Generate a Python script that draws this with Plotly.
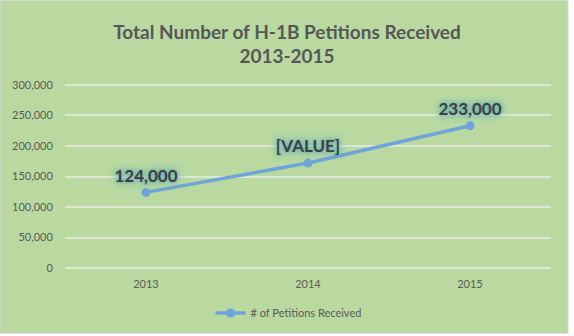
import plotly.graph_objects as go

years = ["2013", "2014", "2015"]
petitions = [124000, 172000, 233000]
point_labels = ["<b>124,000</b>", "<b>[VALUE]</b>", "<b>233,000</b>"]
series_name = "# of Petitions Received"
y_ticks = [0, 50000, 100000, 150000, 200000, 250000, 300000]
y_tick_labels = ["0", "50,000", "100,000", "150,000", "200,000", "250,000", "300,000"]

GREEN = "#B9D9A1"
LINE = "#6FA3DC"
TXT = "#595959"
FONT = "Lato, 'Open Sans', sans-serif"

fig = go.Figure()
fig.add_trace(go.Scatter(
    x=years, y=petitions, mode="lines+markers+text", name=series_name,
    text=point_labels, textposition="top center",
    textfont=dict(family=FONT, size=17, color="#3F3F3F",
                  shadow="0px 0px 3px #6AB0B6, 0px 0px 6px #6AB0B6, 0px 0px 9px #72B4B4"),
    line=dict(color=LINE, width=3.5),
    marker=dict(color=LINE, size=9),
))

fig.add_shape(type="rect", xref="paper", yref="paper", layer="below",
              x0=-65/486, x1=(568-65)/486, y0=-(330-268)/183, y1=(268-4)/183,
              fillcolor=GREEN, line=dict(color="#D8D8D8", width=1))

fig.update_layout(
    width=574, height=336,
    margin=dict(l=65, r=23, t=83, b=66, autoexpand=False),
    paper_bgcolor="white", plot_bgcolor=GREEN,
    title=dict(text="<b>Total Number of H-1B Petitions Received<br>2013-2015</b>",
               x=0.5, xanchor="center", y=0.885, yanchor="middle",
               font=dict(family=FONT, size=19, color="#575757")),
    font=dict(family=FONT, size=11, color=TXT),
    showlegend=True,
    legend=dict(orientation="h", x=0.46, xanchor="center", y=-0.23, yanchor="middle",
                bgcolor="rgba(0,0,0,0)", font=dict(size=11, color=TXT)),
    xaxis=dict(type="category", showgrid=False, showline=False, zeroline=False,
               ticks="outside", ticklen=4, tickcolor="rgba(0,0,0,0)",
               range=[-0.5, 2.5], tickfont=dict(size=11, color=TXT)),
    yaxis=dict(range=[-3000, 303000], tickvals=y_ticks, ticktext=y_tick_labels,
               showgrid=True, gridcolor="#DCE8D2", gridwidth=1.5, zeroline=False,
               showline=False, ticks="outside", ticklen=9, tickcolor="rgba(0,0,0,0)",
               tickfont=dict(size=11, color=TXT)),
)

fig.write_html("out.html")
